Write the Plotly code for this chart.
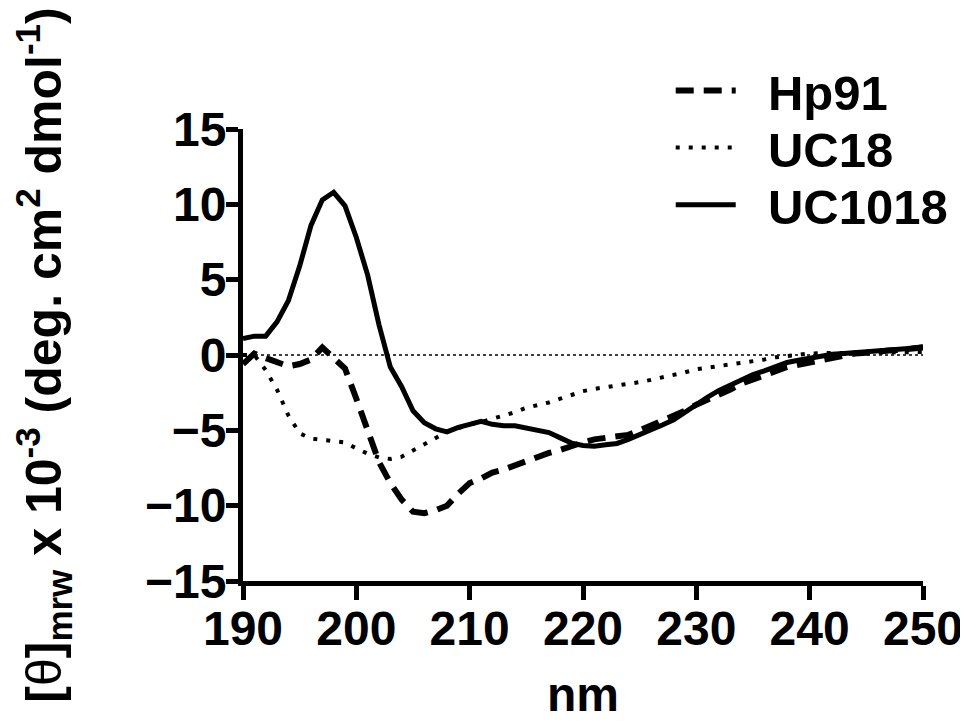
import plotly.graph_objects as go

wavelength = list(range(190, 251))

hp91 = [-0.6, 0.1, -0.2, -0.5, -0.75, -0.6, -0.3, 0.5, -0.2, -0.9,
        -2.9, -5.1, -7.1, -8.5, -9.6, -10.4, -10.5, -10.3, -10.0, -9.2,
        -8.5, -8.2, -7.8, -7.6, -7.3, -7.1, -6.8, -6.5, -6.3, -6.0,
        -5.8, -5.6, -5.5, -5.45, -5.3, -5.0, -4.7, -4.4, -4.1, -3.7,
        -3.3, -3.0, -2.6, -2.3, -1.9, -1.6, -1.3, -1.0, -0.8, -0.65,
        -0.5, -0.3, -0.15, 0.0, 0.1, 0.15, 0.25, 0.3, 0.35, 0.4, 0.5]

uc18 = [0.0, 0.0, -1.0, -2.3, -4.0, -5.2, -5.55, -5.65, -5.7, -5.8,
        -6.2, -6.55, -6.8, -6.9, -6.75, -6.35, -5.9, -5.55, -5.1, -4.85,
        -4.6, -4.45, -4.25, -4.05, -3.8, -3.5, -3.35, -3.15, -2.9, -2.65,
        -2.4, -2.25, -2.15, -2.05, -1.95, -1.8, -1.65, -1.5, -1.35, -1.15,
        -0.95, -0.85, -0.72, -0.62, -0.52, -0.44, -0.3, -0.15, -0.05, 0.05,
        0.1, 0.12, 0.15, 0.15, 0.15, 0.15, 0.15, 0.15, 0.15, 0.15, 0.2]

uc1018 = [1.1, 1.25, 1.25, 2.2, 3.6, 5.9, 8.6, 10.3, 10.8, 9.9,
          7.8, 5.3, 2.0, -0.8, -2.1, -3.7, -4.5, -4.9, -5.1, -4.8,
          -4.6, -4.4, -4.6, -4.7, -4.7, -4.85, -5.05, -5.15, -5.5, -5.85,
          -6.0, -6.05, -5.95, -5.87, -5.6, -5.3, -5.0, -4.65, -4.3, -3.8,
          -3.25, -2.8, -2.35, -2.0, -1.6, -1.3, -1.05, -0.75, -0.5, -0.35,
          -0.2, -0.1, 0.05, 0.1, 0.15, 0.2, 0.3, 0.35, 0.4, 0.45, 0.55]

series_names = ["Hp91", "UC18", "UC1018"]
x_ticks = [190, 200, 210, 220, 230, 240, 250]
y_ticks = [-15, -10, -5, 0, 5, 10, 15]

FONT = "Arial, Liberation Sans, sans-serif"
NB = "\u00a0\u00a0"

fig = go.Figure()
fig.add_trace(go.Scatter(x=wavelength, y=hp91, mode="lines", name=NB + series_names[0],
                         legend="legend",
                         line=dict(color="black", width=6, dash="18px,10px")))
fig.add_trace(go.Scatter(x=wavelength, y=uc18, mode="lines", name=NB + series_names[1],
                         legend="legend2",
                         line=dict(color="black", width=4, dash="4px,9px")))
fig.add_trace(go.Scatter(x=wavelength, y=uc1018, mode="lines", name=NB + series_names[2],
                         legend="legend3",
                         line=dict(color="black", width=5)))

fig.add_shape(type="line", xref="x", yref="y", x0=190, x1=250, y0=0, y1=0,
              line=dict(color="black", width=1.5, dash="3px,3px"), layer="below")

leg_common = dict(x=0.629, xanchor="left", yanchor="middle",
                  font=dict(family=FONT, size=49, weight="bold"),
                  bgcolor="rgba(0,0,0,0)", itemwidth=60)

fig.update_layout(
    width=960, height=713,
    margin=dict(l=235, r=45, t=121, b=140),
    paper_bgcolor="white", plot_bgcolor="white",
    font=dict(family=FONT, color="black"),
    showlegend=True,
    legend=dict(y=1.085, **leg_common),
    legend2=dict(y=0.959, **leg_common),
    legend3=dict(y=0.832, **leg_common),
    xaxis=dict(range=[190, 250], tickvals=x_ticks, showgrid=False, zeroline=False,
               showline=True, linecolor="black", linewidth=5, automargin=False,
               ticks="outside", ticklen=14, tickwidth=5, tickcolor="black",
               ticklabelstandoff=-13,
               tickfont=dict(family=FONT, size=48, weight="bold"),
               title=dict(text="nm", font=dict(family=FONT, size=48, weight="bold"),
                          standoff=56)),
    yaxis=dict(range=[-15, 15], tickvals=y_ticks, showgrid=False, zeroline=False,
               showline=True, linecolor="black", linewidth=5, automargin=False,
               ticks="outside", ticklen=12, tickwidth=5, tickcolor="black",
               ticklabelstandoff=-10,
               tickfont=dict(family=FONT, size=48, weight="bold"),
               title=dict(text="[<span style='font-weight:normal'>θ</span>]<sub>mrw</sub> x 10<sup>-3</sup> (deg. cm<sup>2</sup> dmol<sup>-1</sup>)",
                          font=dict(family=FONT, size=50, weight="bold"),
                          standoff=93)),
)

fig.write_html("out.html")
